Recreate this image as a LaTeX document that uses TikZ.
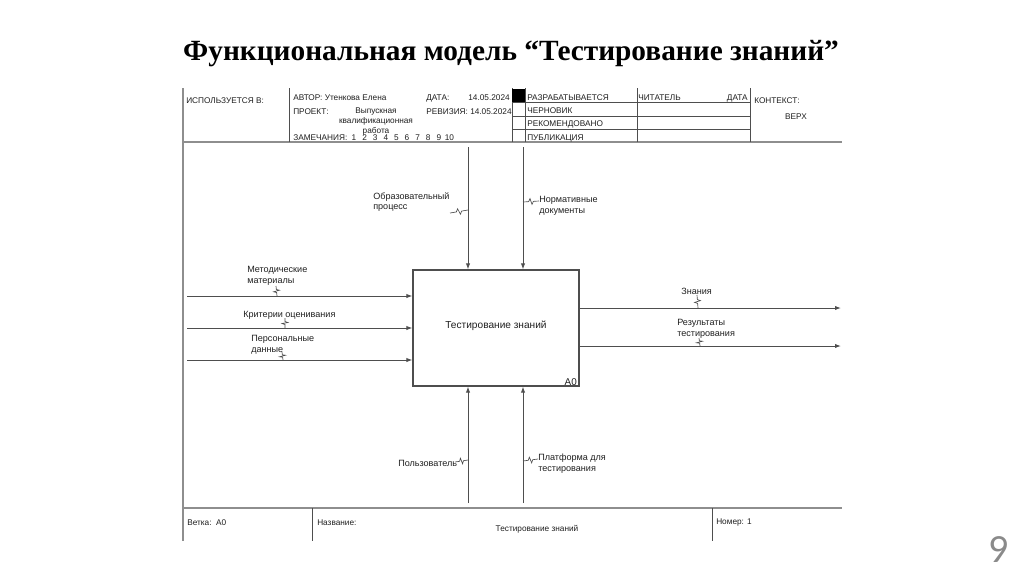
\documentclass[tikz,border=0pt]{standalone}
\usepackage{fontspec}
\setmainfont{Liberation Serif}
\setsansfont{Liberation Sans}
\newfontfamily\pagenumfont{Carlito}
\usetikzlibrary{arrows.meta,calc}
\definecolor{idfLine}{HTML}{4E4E4E}
\definecolor{idfFrame}{HTML}{8E8E8E}
\definecolor{idfText}{HTML}{1F1F1F}
\definecolor{idfPage}{HTML}{8A8A8A}
\tikzset{
  idf frame/.style={draw=idfFrame, line width=1.1pt},
  idf rule/.style={draw=idfLine, line width=.55pt},
  idf box/.style={draw=idfLine, line width=.8pt, minimum width=124.5pt, minimum height=87pt, inner sep=0pt},
  idf arrow/.style={draw=idfLine, line width=.7pt, -{Latex[length=4.5pt,width=3.2pt]}},
  idf squig/.style={draw=idfLine, line width=.5pt,
    to path={-- ($(\tikztostart)!.35!(\tikztotarget)$)
             -- ($(\tikztostart)!.45!(\tikztotarget)!2.2pt!90:(\tikztotarget)$)
             -- ($(\tikztostart)!.55!(\tikztotarget)!2.2pt!-90:(\tikztotarget)$)
             -- ($(\tikztostart)!.65!(\tikztotarget)$) -- (\tikztotarget)}},
  idf head/.style={font=\sffamily\fontsize{6.2}{7.5}\selectfont, text=idfText, inner sep=0pt},
  idf label/.style={font=\sffamily\fontsize{6.8}{8.2}\selectfont, text=idfText, inner sep=0pt, align=left},
  idf title/.style={font=\bfseries\fontsize{22}{24}\selectfont, text=black, inner sep=0pt},
}

\begin{document}
\begin{tikzpicture}[x=.75pt,y=-.75pt]
  \useasboundingbox (0,0) rectangle (1024,576);
  \node[idf title] (title) at (511,54) {Функциональная модель “Тестирование знаний”};
  \node[font=\pagenumfont\fontsize{30}{30}\selectfont, text=idfPage, inner sep=0pt] (pageNum) at (999,550) {9};

  % frame
  \draw[idf frame] (183,88) -- (183,541);
  \draw[idf frame] (183,142) -- (842,142);
  \draw[idf frame] (183,508) -- (842,508);
  \foreach \x in {289,512,525,637,750}{\draw[idf rule] (\x,88) -- (\x,142);}
  \foreach \y in {102,116,129}{\draw[idf rule] (512,\y) -- (750,\y);}
  \fill[black] (512,89) rectangle (525,102);
  \foreach \x in {312,712}{\draw[idf rule] (\x,508) -- (\x,541);}

  % header
  \node[idf head,anchor=west] (usedIn) at (186,101) {ИСПОЛЬЗУЕТСЯ В:};
  \node[idf head,anchor=west] (author) at (293,98) {АВТОР: Утенкова Елена};
  \node[idf head,anchor=west] (dateLbl) at (426,98) {ДАТА:};
  \node[idf head,anchor=east] (dateVal) at (510,98) {14.05.2024};
  \node[idf head,anchor=west] (project) at (293,112) {ПРОЕКТ:};
  \node[idf head,align=center,font=\sffamily\fontsize{6.2}{7.5}\selectfont] (projName) at (376,122) {Выпускная\\квалификационная\\работа};
  \node[idf head,anchor=west] (revision) at (426,112) {РЕВИЗИЯ: 14.05.2024};
  \node[idf head,anchor=west] (notes) at (293,138) {ЗАМЕЧАНИЯ:};
  \foreach \n in {1,...,10}{\node[idf head] (zn\n) at (354+10.6*\n-10.6,138) {\n};}
  \node[idf head,anchor=west] (stDev) at (527,98) {РАЗРАБАТЫВАЕТСЯ};
  \node[idf head,anchor=west] (stDraft) at (527,111) {ЧЕРНОВИК};
  \node[idf head,anchor=west] (stRec) at (527,124) {РЕКОМЕНДОВАНО};
  \node[idf head,anchor=west] (stPub) at (527,138) {ПУБЛИКАЦИЯ};
  \node[idf head,anchor=west] (reader) at (638,98) {ЧИТАТЕЛЬ};
  \node[idf head,anchor=east] (readerDate) at (748,98) {ДАТА};
  \node[idf head,anchor=west] (context) at (754,101) {КОНТЕКСТ:};
  \node[idf head] (contextTop) at (796,117) {ВЕРХ};

  % function block
  \node[idf box] (a0) at (496,328) {};
  \node[idf label,font=\sffamily\fontsize{7.6}{9}\selectfont] (a0name) at (496,326) {Тестирование знаний};
  \node[idf label,anchor=south east,font=\sffamily\fontsize{7.4}{9}\selectfont] (a0num) at (577,386) {A0};

  % controls
  \coordinate (ctlEdu) at (468,147);
  \coordinate (ctlNorm) at (523,147);
  \draw[idf arrow] (ctlEdu) -- (ctlEdu |- a0.north);
  \draw[idf arrow] (ctlNorm) -- (ctlNorm |- a0.north);
  % inputs
  \coordinate (inMeth) at (187,296);
  \coordinate (inCrit) at (187,328);
  \coordinate (inPers) at (187,360);
  \foreach \c in {inMeth,inCrit,inPers}{\draw[idf arrow] (\c) -- (\c -| a0.west);}
  % outputs
  \coordinate (outKnow) at (841,308);
  \coordinate (outRes) at (841,346);
  \foreach \c in {outKnow,outRes}{\draw[idf arrow] (a0.east |- \c) -- (\c);}
  % mechanisms
  \coordinate (mechUser) at (468,503);
  \coordinate (mechPlat) at (523,503);
  \draw[idf arrow] (mechUser) -- (mechUser |- a0.south);
  \draw[idf arrow] (mechPlat) -- (mechPlat |- a0.south);

  % arrow labels
  \node[idf label,anchor=north west] (lEdu) at (373,192) {Образовательный\\процесс};
  \node[idf label,anchor=north west] (lNorm) at (539,196) {Нормативные\\документы};
  \node[idf label,anchor=north west] (lMeth) at (247,266) {Методические\\материалы};
  \node[idf label,anchor=west] (lCrit) at (243,315) {Критерии оценивания};
  \node[idf label,anchor=north west] (lPers) at (251,335) {Персональные\\данные};
  \node[idf label,anchor=west] (lKnow) at (681,291) {Знания};
  \node[idf label,anchor=north west] (lRes) at (677,319) {Результаты\\тестирования};
  \node[idf label,anchor=west] (lUser) at (398,463) {Пользователь};
  \node[idf label,anchor=north west] (lPlat) at (538,454) {Платформа для\\тестирования};

  % squiggles
  \coordinate (sqEduA) at (450,213); \coordinate (sqEduB) at (468,210);
  \coordinate (sqNormA) at (539,201); \coordinate (sqNormB) at (523,202);
  \coordinate (sqMethA) at (276,286); \coordinate (sqMethB) at (277,296);
  \coordinate (sqCritA) at (285,318); \coordinate (sqCritB) at (285,328);
  \coordinate (sqPersA) at (282,352); \coordinate (sqPersB) at (283,360);
  \coordinate (sqKnowA) at (697,295); \coordinate (sqKnowB) at (698,308);
  \coordinate (sqResA) at (699,338); \coordinate (sqResB) at (700,346);
  \coordinate (sqUserA) at (455,462); \coordinate (sqUserB) at (468,460);
  \coordinate (sqPlatA) at (538,459); \coordinate (sqPlatB) at (523,461);
  \foreach \s in {Edu,Norm,Meth,Crit,Pers,Know,Res,User,Plat}{\draw[idf squig] (sq\s A) to (sq\s B);}

  % footer
  \node[idf head,anchor=west] (fBranch) at (187,523) {Ветка:~~A0};
  \node[idf head,anchor=west] (fName) at (317,523) {Название:};
  \node[idf head] (fTitle) at (537,529) {Тестирование знаний};
  \node[idf head,anchor=west] (fNum) at (716,523) {Номер: 1};
\end{tikzpicture}
\end{document}
